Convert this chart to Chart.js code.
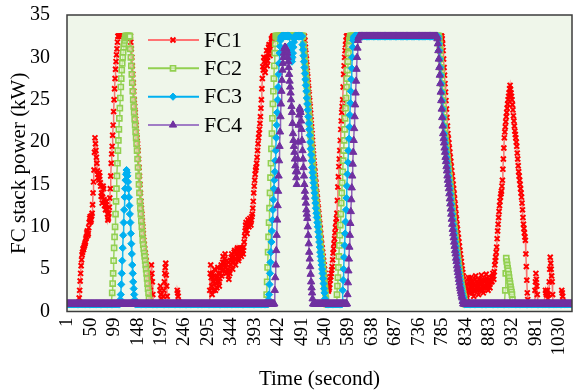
<!DOCTYPE html>
<html>
<head>
<meta charset="utf-8">
<script src="https://cdn.jsdelivr.net/npm/chart.js@4.4.1/dist/chart.umd.min.js"></script>
<style>
html,body{margin:0;padding:0;background:#fff;}
canvas{display:block;}
</style>
</head>
<body>
<canvas id="c" width="578" height="390"></canvas>
<script>
// X axis tick labels (time, second)
const tickLabels = [1,50,99,148,197,246,295,344,393,442,491,540,589,638,687,736,785,834,883,932,981,1030];

// FC stack power (kW), one value per second, 20 seconds per row
const fc1 = [
0.9,0.9,0.9,0.9,0.9,0.9,0.9,0.9,0.9,0.9,0.9,0.9,0.9,0.9,0.9,0.9,0.9,0.9,0.9,0.9,
0.9,0.9,0.9,0.9,0.9,1.6,2.5,3.6,4.5,5.4,6.1,6.7,7,7.4,7.3,7.6,7.8,8,8.2,8.6,
8.8,9.3,9.5,9,9.2,9.9,10.5,11,11.2,10.6,10.8,11.3,11.6,12.6,14,15.3,16.7,18.8,20.5,19.8,
19,18.2,17.5,16.6,16.2,15.8,15.5,16.4,16,15.2,14.8,13.6,14,12.8,13.5,14.8,14.5,13.2,12.5,12.9,
12,12.6,13,12.1,11.5,10.8,11,11.6,12.3,13.4,14.5,16,17.5,18.6,19.5,20.8,22,23.6,25,26.3,
27.5,28.6,29.5,30.3,31,31.8,32.5,32.5,32.5,32.5,32.5,32.5,32.5,32.5,32.5,32.5,32.5,32.5,32.5,32.5,
32.5,32.5,32.5,32.5,32.5,32.5,32.5,32.5,32.5,32.5,32.5,32.5,32.5,31.8,31,30,29,28,27,26,
25,24.2,23.5,22.7,22,21.2,20.5,19.8,19,18,17,16,15,14,13,12.2,11.5,10.7,10,9.2,
8.4,7.9,7.4,6.9,6.5,6,5.5,5,4.5,3.9,3.3,2.7,2.2,1.6,2.5,4,5.5,4.5,3.5,2,
0.9,0.9,0.9,0.9,0.9,0.9,0.9,0.9,0.9,0.9,0.9,0.9,0.9,0.9,2.5,3,2,1.5,0.9,0.9,
0.9,1.8,2.5,3.5,4.5,5.2,5.7,4.3,3,1.8,0.9,0.9,0.9,0.9,0.9,0.9,0.9,0.9,0.9,0.9,
0.9,0.9,0.9,0.9,0.9,0.9,0.9,0.9,0.9,0.9,2.5,2.2,1.8,1.2,0.9,0.9,0.9,0.9,0.9,0.9,
0.9,0.9,0.9,0.9,0.9,0.9,0.9,0.9,0.9,0.9,0.9,0.9,0.9,0.9,0.9,0.9,0.9,0.9,0.9,0.9,
0.9,0.9,0.9,0.9,0.9,0.9,0.9,0.9,0.9,0.9,0.9,0.9,0.9,0.9,0.9,0.9,0.9,0.9,0.9,0.9,
0.9,0.9,0.9,0.9,0.9,0.9,0.9,0.9,0.9,0.9,0.9,0.9,0.9,0.9,0.9,0.9,0.9,0.9,2.5,4.5,
5.5,4,3,2,4.5,3.5,2.5,4.2,5,3.8,2.5,3.3,4,2.8,3.5,5.2,4.5,3.6,3,3.9,
4.5,5.2,5.5,4.2,4.8,5.8,6.5,5,5.5,6.2,6.8,5.2,4.5,5.6,6,4.6,5,4.2,3.8,4.8,
4.5,6,5.5,6.4,6.8,5.8,5,5.9,6.5,7,7.2,6.2,5.5,6.1,6.8,7.3,7.5,6.5,6,6.3,
6.8,7.5,7.2,6.8,6.5,7.1,7.5,7.2,6.8,7.6,8.2,8.9,9.5,10.2,10.5,9.6,9.2,10.1,10.8,10.4,
10,10.6,11,10.5,10.2,10.8,11.2,11.5,12.2,13,14,14.8,15.5,16.2,16.7,17,17.5,18.2,19,19.8,
20.5,21,21.5,22.2,23,24,25,26.3,27.5,28.9,28.5,30,29.5,28.7,28.2,29.3,30,30.8,29,29.6,
30.5,31.2,31.5,30.8,30.2,31,31.5,32.2,32,32.3,32.5,32.5,32.5,32.5,32.5,32.5,32.5,32.5,32.5,32.5,
32.5,32.5,32.5,32.5,32.5,32.5,32.5,32.5,32.5,32.5,32.5,32.5,32.5,32.5,32.5,32.5,32.5,32.5,32.5,32.5,
32.5,32.5,32.5,32.5,32.5,32.5,32.5,32.5,32.5,32.5,32.5,32.5,32.5,32.5,32.5,32.5,32.5,32.5,32.5,32.5,
32.5,32.5,32.5,32.5,32.5,32.5,32.5,32.5,32.5,32.5,32.5,32.5,32.5,32.5,32.5,32.5,32.5,32,31.2,30.5,
29.8,29.1,28.4,27.7,27,26.3,25.6,24.9,24.2,23.4,22.6,21.8,21,20.2,19.4,18.6,17.8,17.1,16.5,15.8,
15.2,14.6,14,13.4,12.8,12.2,11.6,11,10.4,9.8,9.2,8.6,8,7.5,7,6.5,6,5.5,5,4.5,
4,3.6,3.2,2.9,2.6,2.5,2.4,2.6,2.8,3.2,3.7,4.1,4.5,4.9,5.3,6.1,6.9,7.4,8,8.6,
9.3,9.9,10.5,11,11.6,13.1,14.7,15.9,17.1,18,19,20.2,21.5,22.5,23.5,24.2,25,26.5,28,29,
30,30.8,31.5,32,32.5,32.5,32.5,32.5,32.5,32.5,32.5,32.5,32.5,32.5,32.5,32.5,32.5,32.5,32.5,32.5,
32.5,32.5,32.5,32.5,32.5,32.5,32.5,32.5,32.5,32.5,32.5,32.5,32.5,32.5,32.5,32.5,32.5,32.5,32.5,32.5,
32.5,32.5,32.5,32.5,32.5,32.5,32.5,32.5,32.5,32.5,32.5,32.5,32.5,32.5,32.5,32.5,32.5,32.5,32.5,32.5,
32.5,32.5,32.5,32.5,32.5,32.5,32.5,32.5,32.5,32.5,32.5,32.5,32.5,32.5,32.5,32.5,32.5,32.5,32.5,32.5,
32.5,32.5,32.5,32.5,32.5,32.5,32.5,32.5,32.5,32.5,32.5,32.5,32.5,32.5,32.5,32.5,32.5,32.5,32.5,32.5,
32.5,32.5,32.5,32.5,32.5,32.5,32.5,32.5,32.5,32.5,32.5,32.5,32.5,32.5,32.5,32.5,32.5,32.5,32.5,32.5,
32.5,32.5,32.5,32.5,32.5,32.5,32.5,32.5,32.5,32.5,32.5,32.5,32.5,32.5,32.5,32.5,32.5,32.5,32.5,32.5,
32.5,32.5,32.5,32.5,32.5,32.5,32.5,32.5,32.5,32.5,32.5,32.5,32.5,32.5,32.5,32.5,32.5,32.5,32.5,32.5,
32.5,32.5,32.5,32.5,32.5,32.5,32.5,32.5,32.5,32.5,32.5,32.5,32.5,32.5,32.5,32.5,32.5,32.5,32.5,32.5,
32.5,32.5,32.5,32.5,32.5,32.5,32.5,32.5,32.5,32.5,32.5,32.5,32.5,32.5,32.5,32.5,32.5,32.5,32.5,32.5,
32.5,32.5,32.5,32.5,32.2,31.6,30.8,29.8,28.8,27.9,26.9,25.9,24.9,23.9,22.9,21.9,21,20.4,19.9,19.3,
18.8,18.2,17.7,17.1,16.6,16,15.5,15,14.5,13.9,13.3,12.7,12.1,11.5,10.9,10.3,9.7,9.2,8.7,8.2,
7.7,7.2,6.8,6.3,5.9,5.4,5,4.6,4.2,3.8,3.4,3,2.7,2.4,2.1,1.8,1.6,3.2,2.5,4,
3.5,2.6,2.2,3.4,4,3.1,2.8,2.2,3.5,2.5,1.8,2.4,3,3.8,4.2,3.5,2.5,2.9,3.3,2.6,
2,3,3.8,3.2,2.6,3.5,4.3,3.7,3,2.5,2.2,2.9,3.6,3.1,2.8,3.7,4.4,3.9,3.2,2.8,
2.5,3.2,3.8,3.3,2.8,3.5,4,3.6,3.5,4.1,4.5,4.2,3.8,4.7,5.5,6,6.4,7,7.6,8.6,
9.5,10.3,11.1,11.8,12.5,13,13.5,13.9,14.2,14.8,15.5,16.8,18,19.3,20.5,21.2,21.8,22.4,23,23.5,
24,24.5,25,25.4,25.8,26.3,26.7,26.2,25.8,25.4,25,24.4,23.8,23.1,22.5,21.9,21.3,20.9,20.5,20,
19.5,18.7,18,17.2,16.5,16,15.5,15,14.5,14,13.5,12.8,12,11.1,10.3,9.8,9.3,8.8,8.4,6.8,
5.3,3.7,2.2,1.4,0.9,0.9,0.9,0.9,0.9,0.9,0.9,0.9,0.9,0.9,0.9,0.9,0.9,0.9,2.5,3.5,
4.5,3.8,3,2,0.9,0.9,0.9,0.9,0.9,0.9,0.9,0.9,0.9,0.9,0.9,0.9,0.9,0.9,0.9,0.9,
2.5,2.2,2,2.2,2.5,1.5,0.9,2,3.5,5,6.4,5.7,5,4.2,3.5,2,0.9,0.9,0.9,0.9,
0.9,0.9,0.9,0.9,0.9,0.9,0.9,0.9,0.9,0.9,0.9,0.9,0.9,0.9,2.5,2.2,1.8,1.2,0.9,0.9,
0.9,0.9,0.9,0.9,0.9,0.9,0.9,0.9,0.9,0.9,0.9,0.9,0.9,0.9,0.9,0.9,0.9,0.9,0.9,0.9
];

const fc2 = [
0.9,0.9,0.9,0.9,0.9,0.9,0.9,0.9,0.9,0.9,0.9,0.9,0.9,0.9,0.9,0.9,0.9,0.9,0.9,0.9,
0.9,0.9,0.9,0.9,0.9,0.9,0.9,0.9,0.9,0.9,0.9,0.9,0.9,0.9,0.9,0.9,0.9,0.9,0.9,0.9,
0.9,0.9,0.9,0.9,0.9,0.9,0.9,0.9,0.9,0.9,0.9,0.9,0.9,0.9,0.9,0.9,0.9,0.9,0.9,0.9,
0.9,0.9,0.9,0.9,0.9,0.9,0.9,0.9,0.9,0.9,0.9,0.9,0.9,0.9,0.9,0.9,0.9,0.9,0.9,0.9,
0.9,0.9,0.9,0.9,0.9,0.9,0.9,0.9,0.9,0.9,0.9,0.9,0.9,0.9,2.2,3.3,4.5,6,7.5,8.8,
10,11.5,13,14.5,16,17.5,19,20.2,21.5,22.8,24,25.2,26.5,27.5,28.5,29.3,30,30.6,31.2,31.6,
32,32.3,32.5,32.5,32.5,32.5,32.5,32.5,32.5,32.5,32.5,32.5,31,30,29,28,27,26,25,24.2,
23.5,22.7,22,21.2,20.5,19.8,19,18,17,16,15,14,13,12.2,11.5,10.7,10,9.2,8.4,7.9,
7.4,6.9,6.5,6,5.5,5,4.5,3.9,3.3,2.7,2.2,1.5,0.9,0.9,0.9,0.9,0.9,0.9,0.9,0.9,
0.9,0.9,0.9,0.9,0.9,0.9,0.9,0.9,0.9,0.9,0.9,0.9,0.9,0.9,0.9,0.9,0.9,0.9,0.9,0.9,
0.9,0.9,0.9,0.9,0.9,0.9,0.9,0.9,0.9,0.9,0.9,0.9,0.9,0.9,0.9,0.9,0.9,0.9,0.9,0.9,
0.9,0.9,0.9,0.9,0.9,0.9,0.9,0.9,0.9,0.9,0.9,0.9,0.9,0.9,0.9,0.9,0.9,0.9,0.9,0.9,
0.9,0.9,0.9,0.9,0.9,0.9,0.9,0.9,0.9,0.9,0.9,0.9,0.9,0.9,0.9,0.9,0.9,0.9,0.9,0.9,
0.9,0.9,0.9,0.9,0.9,0.9,0.9,0.9,0.9,0.9,0.9,0.9,0.9,0.9,0.9,0.9,0.9,0.9,0.9,0.9,
0.9,0.9,0.9,0.9,0.9,0.9,0.9,0.9,0.9,0.9,0.9,0.9,0.9,0.9,0.9,0.9,0.9,0.9,0.9,0.9,
0.9,0.9,0.9,0.9,0.9,0.9,0.9,0.9,0.9,0.9,0.9,0.9,0.9,0.9,0.9,0.9,0.9,0.9,0.9,0.9,
0.9,0.9,0.9,0.9,0.9,0.9,0.9,0.9,0.9,0.9,0.9,0.9,0.9,0.9,0.9,0.9,0.9,0.9,0.9,0.9,
0.9,0.9,0.9,0.9,0.9,0.9,0.9,0.9,0.9,0.9,0.9,0.9,0.9,0.9,0.9,0.9,0.9,0.9,0.9,0.9,
0.9,0.9,0.9,0.9,0.9,0.9,0.9,0.9,0.9,0.9,0.9,0.9,0.9,0.9,0.9,0.9,0.9,0.9,0.9,0.9,
0.9,0.9,0.9,0.9,0.9,0.9,0.9,0.9,0.9,0.9,0.9,0.9,0.9,0.9,0.9,0.9,0.9,0.9,0.9,0.9,
0.9,0.9,0.9,0.9,0.9,0.9,0.9,0.9,0.9,0.9,0.9,0.9,0.9,0.9,0.9,0.9,0.9,2,3.5,5.2,
7,8.8,10.5,12.2,14,15.8,17.5,19.2,21,22.8,24.5,26,27.5,29,30.5,31.6,32.5,32.5,32.5,32.5,
32.5,32.5,32.5,32.5,32.5,32.5,32.5,32.5,32.5,32.5,32.5,32.5,32.5,32.5,32.5,32.5,32.5,32.5,32.5,32.5,
32.5,32.5,32.5,32.5,32.5,32.5,32.5,32.5,32.5,32.5,32.5,32.5,32.5,32.5,32.5,32.5,32.5,32.5,32.5,32.5,
32.5,32.5,32.5,32.5,32.5,32.5,32.5,32.5,32.5,32.5,32.5,32.5,32.5,32.5,31.5,30.9,30.2,29.5,28.8,28.1,
27.4,26.7,26,25.2,24.5,23.8,23,22.2,21.5,20.8,20,19.2,18.5,17.8,17,16.4,15.8,15.2,14.6,14,
13.4,12.8,12.2,11.6,11.1,10.5,10,9.4,8.8,8.2,7.6,7,6.5,6,5.5,5,4.5,3.9,3.3,2.7,
2.2,1.5,0.9,0.9,0.9,0.9,0.9,0.9,0.9,0.9,0.9,0.9,0.9,0.9,0.9,0.9,0.9,0.9,0.9,0.9,
0.9,0.9,0.9,0.9,2,3,4,5.2,6.5,7.8,9,10.2,11.5,12.8,14,15.2,16.5,17.8,19,20.2,
21.5,22.8,24,25.2,26.5,27.5,28.5,29.5,30.5,31.3,32,32.3,32.5,32.5,32.5,32.5,32.5,32.5,32.5,32.5,
32.5,32.5,32.5,32.5,32.5,32.5,32.5,32.5,32.5,32.5,32.5,32.5,32.5,32.5,32.5,32.5,32.5,32.5,32.5,32.5,
32.5,32.5,32.5,32.5,32.5,32.5,32.5,32.5,32.5,32.5,32.5,32.5,32.5,32.5,32.5,32.5,32.5,32.5,32.5,32.5,
32.5,32.5,32.5,32.5,32.5,32.5,32.5,32.5,32.5,32.5,32.5,32.5,32.5,32.5,32.5,32.5,32.5,32.5,32.5,32.5,
32.5,32.5,32.5,32.5,32.5,32.5,32.5,32.5,32.5,32.5,32.5,32.5,32.5,32.5,32.5,32.5,32.5,32.5,32.5,32.5,
32.5,32.5,32.5,32.5,32.5,32.5,32.5,32.5,32.5,32.5,32.5,32.5,32.5,32.5,32.5,32.5,32.5,32.5,32.5,32.5,
32.5,32.5,32.5,32.5,32.5,32.5,32.5,32.5,32.5,32.5,32.5,32.5,32.5,32.5,32.5,32.5,32.5,32.5,32.5,32.5,
32.5,32.5,32.5,32.5,32.5,32.5,32.5,32.5,32.5,32.5,32.5,32.5,32.5,32.5,32.5,32.5,32.5,32.5,32.5,32.5,
32.5,32.5,32.5,32.5,32.5,32.5,32.5,32.5,32.5,32.5,32.5,32.5,32.5,32.5,32.5,32.5,32.5,32.5,32.5,32.5,
32.5,32.5,32.5,32.5,32.5,32.5,32.5,32.5,32.5,32.5,32.5,32.5,32.5,32.5,32.5,32.5,32.5,32.5,32.2,31.5,
30.8,29.8,28.8,27.9,26.9,25.9,24.9,23.9,22.9,21.9,21,20.4,19.9,19.3,18.8,18.2,17.7,17.1,16.6,16,
15.5,15,14.5,13.9,13.3,12.7,12.1,11.5,10.9,10.3,9.7,9.2,8.7,8.2,7.7,7.2,6.8,6.3,5.9,5.4,
5,4.6,4.2,3.8,3.4,3,2.7,2.4,2.1,1.8,1.6,1.2,0.9,0.9,0.9,0.9,0.9,0.9,0.9,0.9,
0.9,0.9,0.9,0.9,0.9,0.9,0.9,0.9,0.9,0.9,0.9,0.9,0.9,0.9,0.9,0.9,0.9,0.9,0.9,0.9,
0.9,0.9,0.9,0.9,0.9,0.9,0.9,0.9,0.9,0.9,0.9,0.9,0.9,0.9,0.9,0.9,0.9,0.9,0.9,0.9,
0.9,0.9,0.9,0.9,0.9,0.9,0.9,0.9,0.9,0.9,0.9,0.9,0.9,0.9,0.9,0.9,0.9,0.9,0.9,0.9,
0.9,0.9,0.9,0.9,0.9,0.9,0.9,0.9,0.9,0.9,0.9,0.9,0.9,0.9,0.9,0.9,2.5,4.5,6.3,5.9,
5.5,5.1,4.8,4.4,4,3.6,3.3,2.9,2.6,2.3,2,1.4,0.9,0.9,0.9,0.9,0.9,0.9,0.9,0.9,
0.9,0.9,0.9,0.9,0.9,0.9,0.9,0.9,0.9,0.9,0.9,0.9,0.9,0.9,0.9,0.9,0.9,0.9,0.9,0.9,
0.9,0.9,0.9,0.9,0.9,0.9,0.9,0.9,0.9,0.9,0.9,0.9,0.9,0.9,0.9,0.9,0.9,0.9,0.9,0.9,
0.9,0.9,0.9,0.9,0.9,0.9,0.9,0.9,0.9,0.9,0.9,0.9,0.9,0.9,0.9,0.9,0.9,0.9,0.9,0.9,
0.9,0.9,0.9,0.9,0.9,0.9,0.9,0.9,0.9,0.9,0.9,0.9,0.9,0.9,0.9,0.9,0.9,0.9,0.9,0.9,
0.9,0.9,0.9,0.9,0.9,0.9,0.9,0.9,0.9,0.9,0.9,0.9,0.9,0.9,0.9,0.9,0.9,0.9,0.9,0.9,
0.9,0.9,0.9,0.9,0.9,0.9,0.9,0.9,0.9,0.9,0.9,0.9,0.9,0.9,0.9,0.9,0.9,0.9,0.9,0.9
];

const fc3 = [
0.9,0.9,0.9,0.9,0.9,0.9,0.9,0.9,0.9,0.9,0.9,0.9,0.9,0.9,0.9,0.9,0.9,0.9,0.9,0.9,
0.9,0.9,0.9,0.9,0.9,0.9,0.9,0.9,0.9,0.9,0.9,0.9,0.9,0.9,0.9,0.9,0.9,0.9,0.9,0.9,
0.9,0.9,0.9,0.9,0.9,0.9,0.9,0.9,0.9,0.9,0.9,0.9,0.9,0.9,0.9,0.9,0.9,0.9,0.9,0.9,
0.9,0.9,0.9,0.9,0.9,0.9,0.9,0.9,0.9,0.9,0.9,0.9,0.9,0.9,0.9,0.9,0.9,0.9,0.9,0.9,
0.9,0.9,0.9,0.9,0.9,0.9,0.9,0.9,0.9,0.9,0.9,0.9,0.9,0.9,0.9,0.9,0.9,0.9,0.9,0.9,
0.9,0.9,0.9,0.9,0.9,0.9,0.9,0.9,0.9,0.9,0.9,1.4,2,3.2,4.5,6,7.5,9,10.5,12,
13.5,14.5,15.5,16.2,16.7,16.4,16,15.3,14.5,13.5,12.5,11.5,10.5,9.2,8,6.8,5.5,4.5,3.5,2.7,
2,1.4,0.9,0.9,0.9,0.9,0.9,0.9,0.9,0.9,0.9,0.9,0.9,0.9,0.9,0.9,0.9,0.9,0.9,0.9,
0.9,0.9,0.9,0.9,0.9,0.9,0.9,0.9,0.9,0.9,0.9,0.9,0.9,0.9,0.9,0.9,0.9,0.9,0.9,0.9,
0.9,0.9,0.9,0.9,0.9,0.9,0.9,0.9,0.9,0.9,0.9,0.9,0.9,0.9,0.9,0.9,0.9,0.9,0.9,0.9,
0.9,0.9,0.9,0.9,0.9,0.9,0.9,0.9,0.9,0.9,0.9,0.9,0.9,0.9,0.9,0.9,0.9,0.9,0.9,0.9,
0.9,0.9,0.9,0.9,0.9,0.9,0.9,0.9,0.9,0.9,0.9,0.9,0.9,0.9,0.9,0.9,0.9,0.9,0.9,0.9,
0.9,0.9,0.9,0.9,0.9,0.9,0.9,0.9,0.9,0.9,0.9,0.9,0.9,0.9,0.9,0.9,0.9,0.9,0.9,0.9,
0.9,0.9,0.9,0.9,0.9,0.9,0.9,0.9,0.9,0.9,0.9,0.9,0.9,0.9,0.9,0.9,0.9,0.9,0.9,0.9,
0.9,0.9,0.9,0.9,0.9,0.9,0.9,0.9,0.9,0.9,0.9,0.9,0.9,0.9,0.9,0.9,0.9,0.9,0.9,0.9,
0.9,0.9,0.9,0.9,0.9,0.9,0.9,0.9,0.9,0.9,0.9,0.9,0.9,0.9,0.9,0.9,0.9,0.9,0.9,0.9,
0.9,0.9,0.9,0.9,0.9,0.9,0.9,0.9,0.9,0.9,0.9,0.9,0.9,0.9,0.9,0.9,0.9,0.9,0.9,0.9,
0.9,0.9,0.9,0.9,0.9,0.9,0.9,0.9,0.9,0.9,0.9,0.9,0.9,0.9,0.9,0.9,0.9,0.9,0.9,0.9,
0.9,0.9,0.9,0.9,0.9,0.9,0.9,0.9,0.9,0.9,0.9,0.9,0.9,0.9,0.9,0.9,0.9,0.9,0.9,0.9,
0.9,0.9,0.9,0.9,0.9,0.9,0.9,0.9,0.9,0.9,0.9,0.9,0.9,0.9,0.9,0.9,0.9,0.9,0.9,0.9,
0.9,0.9,0.9,0.9,0.9,0.9,0.9,0.9,0.9,0.9,0.9,0.9,0.9,0.9,0.9,0.9,0.9,0.9,0.9,0.9,
0.9,1.4,2,3.2,4.5,5.8,7,8.2,9.5,10.8,12,13.2,14.5,15.5,16.5,17.8,19,20.5,22,23.5,
25,26.5,28,29.3,30.5,31.3,32,32.3,32.5,32.5,32.5,32.5,32.5,32.5,32.5,32.5,32.5,32.5,32.5,32.5,
32.5,32.5,32.5,32.5,32.5,32.5,31.5,30.8,30.2,29.8,29.5,30,30.5,31.2,31.8,32.2,32.5,32.5,32.5,32.5,
32.5,32.5,32.5,32.5,32.5,32.5,32.5,32.5,32.5,32.5,32.5,32.5,31.5,30.9,30.2,29.5,28.8,28.1,27.4,26.7,
26,25.2,24.5,23.8,23,22.2,21.5,20.8,20,19.2,18.5,17.8,17,16.4,15.8,15.2,14.6,14,13.4,12.8,
12.2,11.6,11.1,10.5,10,9.4,8.8,8.2,7.6,7,6.5,6,5.5,5,4.5,3.9,3.3,2.7,2.2,1.5,
0.9,0.9,0.9,0.9,0.9,0.9,0.9,0.9,0.9,0.9,0.9,0.9,0.9,0.9,0.9,0.9,0.9,0.9,0.9,0.9,
0.9,0.9,0.9,0.9,0.9,0.9,0.9,0.9,0.9,0.9,0.9,0.9,0.9,0.9,0.9,0.9,2.5,3.7,5,6.4,
7.8,9.2,10.6,12,13.4,14.8,16.2,17.6,19,20.4,21.8,23.2,24.6,26,27.4,28.7,30,31.2,32,32.3,
32.5,32.5,32.5,32.5,32.5,32.5,32.5,32.5,32.5,32.5,32.5,32.5,32.5,32.5,32.5,32.5,32.5,32.5,32.5,32.5,
32.5,32.5,32.5,32.5,32.5,32.5,32.5,32.5,32.5,32.5,32.5,32.5,32.5,32.5,32.5,32.5,32.5,32.5,32.5,32.5,
32.5,32.5,32.5,32.5,32.5,32.5,32.5,32.5,32.5,32.5,32.5,32.5,32.5,32.5,32.5,32.5,32.5,32.5,32.5,32.5,
32.5,32.5,32.5,32.5,32.5,32.5,32.5,32.5,32.5,32.5,32.5,32.5,32.5,32.5,32.5,32.5,32.5,32.5,32.5,32.5,
32.5,32.5,32.5,32.5,32.5,32.5,32.5,32.5,32.5,32.5,32.5,32.5,32.5,32.5,32.5,32.5,32.5,32.5,32.5,32.5,
32.5,32.5,32.5,32.5,32.5,32.5,32.5,32.5,32.5,32.5,32.5,32.5,32.5,32.5,32.5,32.5,32.5,32.5,32.5,32.5,
32.5,32.5,32.5,32.5,32.5,32.5,32.5,32.5,32.5,32.5,32.5,32.5,32.5,32.5,32.5,32.5,32.5,32.5,32.5,32.5,
32.5,32.5,32.5,32.5,32.5,32.5,32.5,32.5,32.5,32.5,32.5,32.5,32.5,32.5,32.5,32.5,32.5,32.5,32.5,32.5,
32.5,32.5,32.5,32.5,32.5,32.5,32.5,32.5,32.5,32.5,32.5,32.5,32.5,32.5,32.5,32.5,32.2,31.6,30.8,29.8,
28.8,27.9,26.9,25.9,24.9,23.9,22.9,21.9,21,20.4,19.9,19.3,18.8,18.2,17.7,17.1,16.6,16,15.5,15,
14.5,13.9,13.3,12.7,12.1,11.5,10.9,10.3,9.7,9.2,8.7,8.2,7.7,7.2,6.8,6.3,5.9,5.4,5,4.6,
4.2,3.8,3.4,3,2.7,2.4,2.1,1.8,1.6,1.2,0.9,0.9,0.9,0.9,0.9,0.9,0.9,0.9,0.9,0.9,
0.9,0.9,0.9,0.9,0.9,0.9,0.9,0.9,0.9,0.9,0.9,0.9,0.9,0.9,0.9,0.9,0.9,0.9,0.9,0.9,
0.9,0.9,0.9,0.9,0.9,0.9,0.9,0.9,0.9,0.9,0.9,0.9,0.9,0.9,0.9,0.9,0.9,0.9,0.9,0.9,
0.9,0.9,0.9,0.9,0.9,0.9,0.9,0.9,0.9,0.9,0.9,0.9,0.9,0.9,0.9,0.9,0.9,0.9,0.9,0.9,
0.9,0.9,0.9,0.9,0.9,0.9,0.9,0.9,0.9,0.9,0.9,0.9,0.9,0.9,0.9,0.9,0.9,0.9,0.9,0.9,
0.9,0.9,0.9,0.9,0.9,0.9,0.9,0.9,0.9,0.9,0.9,0.9,0.9,0.9,0.9,0.9,0.9,0.9,0.9,0.9,
0.9,0.9,0.9,0.9,0.9,0.9,0.9,0.9,0.9,0.9,0.9,0.9,0.9,0.9,0.9,0.9,0.9,0.9,0.9,0.9,
0.9,0.9,0.9,0.9,0.9,0.9,0.9,0.9,0.9,0.9,0.9,0.9,0.9,0.9,0.9,0.9,0.9,0.9,0.9,0.9,
0.9,0.9,0.9,0.9,0.9,0.9,0.9,0.9,0.9,0.9,0.9,0.9,0.9,0.9,0.9,0.9,0.9,0.9,0.9,0.9,
0.9,0.9,0.9,0.9,0.9,0.9,0.9,0.9,0.9,0.9,0.9,0.9,0.9,0.9,0.9,0.9,0.9,0.9,0.9,0.9,
0.9,0.9,0.9,0.9,0.9,0.9,0.9,0.9,0.9,0.9,0.9,0.9,0.9,0.9,0.9,0.9,0.9,0.9,0.9,0.9,
0.9,0.9,0.9,0.9,0.9,0.9,0.9,0.9,0.9,0.9,0.9,0.9,0.9,0.9,0.9,0.9,0.9,0.9,0.9,0.9
];

const fc4 = [
0.9,0.9,0.9,0.9,0.9,0.9,0.9,0.9,0.9,0.9,0.9,0.9,0.9,0.9,0.9,0.9,0.9,0.9,0.9,0.9,
0.9,0.9,0.9,0.9,0.9,0.9,0.9,0.9,0.9,0.9,0.9,0.9,0.9,0.9,0.9,0.9,0.9,0.9,0.9,0.9,
0.9,0.9,0.9,0.9,0.9,0.9,0.9,0.9,0.9,0.9,0.9,0.9,0.9,0.9,0.9,0.9,0.9,0.9,0.9,0.9,
0.9,0.9,0.9,0.9,0.9,0.9,0.9,0.9,0.9,0.9,0.9,0.9,0.9,0.9,0.9,0.9,0.9,0.9,0.9,0.9,
0.9,0.9,0.9,0.9,0.9,0.9,0.9,0.9,0.9,0.9,0.9,0.9,0.9,0.9,0.9,0.9,0.9,0.9,0.9,0.9,
0.9,0.9,0.9,0.9,0.9,0.9,0.9,0.9,0.9,0.9,0.9,0.9,0.9,0.9,0.9,0.9,0.9,0.9,0.9,0.9,
0.9,0.9,0.9,0.9,0.9,0.9,0.9,0.9,0.9,0.9,0.9,0.9,0.9,0.9,0.9,0.9,0.9,0.9,0.9,0.9,
0.9,0.9,0.9,0.9,0.9,0.9,0.9,0.9,0.9,0.9,0.9,0.9,0.9,0.9,0.9,0.9,0.9,0.9,0.9,0.9,
0.9,0.9,0.9,0.9,0.9,0.9,0.9,0.9,0.9,0.9,0.9,0.9,0.9,0.9,0.9,0.9,0.9,0.9,0.9,0.9,
0.9,0.9,0.9,0.9,0.9,0.9,0.9,0.9,0.9,0.9,0.9,0.9,0.9,0.9,0.9,0.9,0.9,0.9,0.9,0.9,
0.9,0.9,0.9,0.9,0.9,0.9,0.9,0.9,0.9,0.9,0.9,0.9,0.9,0.9,0.9,0.9,0.9,0.9,0.9,0.9,
0.9,0.9,0.9,0.9,0.9,0.9,0.9,0.9,0.9,0.9,0.9,0.9,0.9,0.9,0.9,0.9,0.9,0.9,0.9,0.9,
0.9,0.9,0.9,0.9,0.9,0.9,0.9,0.9,0.9,0.9,0.9,0.9,0.9,0.9,0.9,0.9,0.9,0.9,0.9,0.9,
0.9,0.9,0.9,0.9,0.9,0.9,0.9,0.9,0.9,0.9,0.9,0.9,0.9,0.9,0.9,0.9,0.9,0.9,0.9,0.9,
0.9,0.9,0.9,0.9,0.9,0.9,0.9,0.9,0.9,0.9,0.9,0.9,0.9,0.9,0.9,0.9,0.9,0.9,0.9,0.9,
0.9,0.9,0.9,0.9,0.9,0.9,0.9,0.9,0.9,0.9,0.9,0.9,0.9,0.9,0.9,0.9,0.9,0.9,0.9,0.9,
0.9,0.9,0.9,0.9,0.9,0.9,0.9,0.9,0.9,0.9,0.9,0.9,0.9,0.9,0.9,0.9,0.9,0.9,0.9,0.9,
0.9,0.9,0.9,0.9,0.9,0.9,0.9,0.9,0.9,0.9,0.9,0.9,0.9,0.9,0.9,0.9,0.9,0.9,0.9,0.9,
0.9,0.9,0.9,0.9,0.9,0.9,0.9,0.9,0.9,0.9,0.9,0.9,0.9,0.9,0.9,0.9,0.9,0.9,0.9,0.9,
0.9,0.9,0.9,0.9,0.9,0.9,0.9,0.9,0.9,0.9,0.9,0.9,0.9,0.9,0.9,0.9,0.9,0.9,0.9,0.9,
0.9,0.9,0.9,0.9,0.9,0.9,0.9,0.9,0.9,0.9,0.9,0.9,0.9,0.9,0.9,0.9,0.9,0.9,0.9,0.9,
0.9,0.9,0.9,0.9,0.9,0.9,0.9,0.9,0.9,0.9,0.9,0.9,0.9,0.9,2.5,4,5.5,7.2,9,10.8,
12.5,14.2,16,17.8,19.5,21.2,23,24.5,26,27.3,28.5,29.3,30,30.5,31,31.2,31.2,31.1,31,30.8,
30.5,30,29.5,28.8,28,27.2,26.5,25.8,25,24.2,23.5,22.2,21,20.2,19.5,18.8,18,17.2,16.5,15.8,
15,16.5,18,20,22,23.2,24,23.8,23.5,22.5,21.5,20.2,19,18,17,16,15,14.2,13.5,12.8,
12,11.5,11,10,9,8,7,6.2,5.3,4.4,3.5,2.8,2.2,1.5,0.9,0.9,0.9,0.9,0.9,0.9,
0.9,0.9,0.9,0.9,0.9,0.9,0.9,0.9,0.9,0.9,0.9,0.9,0.9,0.9,0.9,0.9,0.9,0.9,0.9,0.9,
0.9,0.9,0.9,0.9,0.9,0.9,0.9,0.9,0.9,0.9,0.9,0.9,0.9,0.9,0.9,0.9,0.9,0.9,0.9,0.9,
0.9,0.9,0.9,0.9,0.9,0.9,0.9,0.9,0.9,0.9,0.9,0.9,0.9,0.9,0.9,0.9,0.9,0.9,0.9,0.9,
0.9,0.9,0.9,0.9,0.9,0.9,2,3.4,4.8,6.2,7.6,9,10.4,11.8,13.2,14.6,16,17.4,18.8,20.2,
21.6,23,24.4,25.8,27.2,28.6,30,31.1,32,32.3,32.5,32.5,32.5,32.5,32.5,32.5,32.5,32.5,32.5,32.5,
32.5,32.5,32.5,32.5,32.5,32.5,32.5,32.5,32.5,32.5,32.5,32.5,32.5,32.5,32.5,32.5,32.5,32.5,32.5,32.5,
32.5,32.5,32.5,32.5,32.5,32.5,32.5,32.5,32.5,32.5,32.5,32.5,32.5,32.5,32.5,32.5,32.5,32.5,32.5,32.5,
32.5,32.5,32.5,32.5,32.5,32.5,32.5,32.5,32.5,32.5,32.5,32.5,32.5,32.5,32.5,32.5,32.5,32.5,32.5,32.5,
32.5,32.5,32.5,32.5,32.5,32.5,32.5,32.5,32.5,32.5,32.5,32.5,32.5,32.5,32.5,32.5,32.5,32.5,32.5,32.5,
32.5,32.5,32.5,32.5,32.5,32.5,32.5,32.5,32.5,32.5,32.5,32.5,32.5,32.5,32.5,32.5,32.5,32.5,32.5,32.5,
32.5,32.5,32.5,32.5,32.5,32.5,32.5,32.5,32.5,32.5,32.5,32.5,32.5,32.5,32.5,32.5,32.5,32.5,32.5,32.5,
32.5,32.5,32.5,32.5,32.5,32.5,32.5,32.5,32.5,32.5,32.5,32.5,32.5,32.5,32.5,32.5,32.5,32.5,32.5,32.5,
32.5,32.5,32.5,32.5,32.5,32.5,32.5,32.5,32.5,32.5,32.5,32.5,32.5,32.5,32.2,31.6,30.8,29.8,28.8,27.9,
26.9,25.9,24.9,23.9,22.9,21.9,21,20.4,19.9,19.3,18.8,18.2,17.7,17.1,16.6,16,15.5,15,14.5,13.9,
13.3,12.7,12.1,11.5,10.9,10.3,9.7,9.2,8.7,8.2,7.7,7.2,6.8,6.3,5.9,5.4,5,4.6,4.2,3.8,
3.4,3,2.7,2.4,2.1,1.8,1.6,1.2,0.9,0.9,0.9,0.9,0.9,0.9,0.9,0.9,0.9,0.9,0.9,0.9,
0.9,0.9,0.9,0.9,0.9,0.9,0.9,0.9,0.9,0.9,0.9,0.9,0.9,0.9,0.9,0.9,0.9,0.9,0.9,0.9,
0.9,0.9,0.9,0.9,0.9,0.9,0.9,0.9,0.9,0.9,0.9,0.9,0.9,0.9,0.9,0.9,0.9,0.9,0.9,0.9,
0.9,0.9,0.9,0.9,0.9,0.9,0.9,0.9,0.9,0.9,0.9,0.9,0.9,0.9,0.9,0.9,0.9,0.9,0.9,0.9,
0.9,0.9,0.9,0.9,0.9,0.9,0.9,0.9,0.9,0.9,0.9,0.9,0.9,0.9,0.9,0.9,0.9,0.9,0.9,0.9,
0.9,0.9,0.9,0.9,0.9,0.9,0.9,0.9,0.9,0.9,0.9,0.9,0.9,0.9,0.9,0.9,0.9,0.9,0.9,0.9,
0.9,0.9,0.9,0.9,0.9,0.9,0.9,0.9,0.9,0.9,0.9,0.9,0.9,0.9,0.9,0.9,0.9,0.9,0.9,0.9,
0.9,0.9,0.9,0.9,0.9,0.9,0.9,0.9,0.9,0.9,0.9,0.9,0.9,0.9,0.9,0.9,0.9,0.9,0.9,0.9,
0.9,0.9,0.9,0.9,0.9,0.9,0.9,0.9,0.9,0.9,0.9,0.9,0.9,0.9,0.9,0.9,0.9,0.9,0.9,0.9,
0.9,0.9,0.9,0.9,0.9,0.9,0.9,0.9,0.9,0.9,0.9,0.9,0.9,0.9,0.9,0.9,0.9,0.9,0.9,0.9,
0.9,0.9,0.9,0.9,0.9,0.9,0.9,0.9,0.9,0.9,0.9,0.9,0.9,0.9,0.9,0.9,0.9,0.9,0.9,0.9,
0.9,0.9,0.9,0.9,0.9,0.9,0.9,0.9,0.9,0.9,0.9,0.9,0.9,0.9,0.9,0.9,0.9,0.9,0.9,0.9
];

const seriesNames = ['FC1','FC2','FC3','FC4'];
const seriesValues = [fc1, fc2, fc3, fc4];

// time of each sample: the n-th value is second n
const times = fc1.map((_, i) => i + 1);

const FONT = '"Liberation Serif", "Times New Roman", serif';

function pts(vals){ return vals.map((v,i)=>({x:times[i], y:v})); }

const styles = [
  {line:'rgba(255,70,70,0.75)', legendLine:'#ff7373', style:'crossRot', r:3.5, bg:'#ff0000', bc:'#ff0000', bw:2},
  {line:'rgba(146,208,80,0.9)', legendLine:'#92d050', style:'rect', r:3.6, bg:'rgba(230,245,215,0.6)', bc:'#92d050', bw:1.6},
  {line:'rgba(0,176,240,0.9)', legendLine:'#00b0f0', style:'rectRot', r:3.6, bg:'#00b0f0', bc:'#00b0f0', bw:1},
  {line:'rgba(125,70,175,0.85)', legendLine:'#a07cc5', style:'triangle', r:4.2, bg:'#7030a0', bc:'#7030a0', bw:1}
];

const datasets = seriesValues.map((v,i)=>({
  label: seriesNames[i],
  data: pts(v),
  borderColor: styles[i].line,
  borderWidth: 1.5,
  pointStyle: styles[i].style,
  pointRadius: styles[i].r,
  pointBackgroundColor: styles[i].bg,
  pointBorderColor: styles[i].bc,
  pointBorderWidth: styles[i].bw,
  tension: 0,
  fill: false,
  order: 3 - i
}));

function drawMarker(ctx, s, x, y){
  ctx.save();
  ctx.fillStyle = s.bg; ctx.strokeStyle = s.bc; ctx.lineWidth = s.bw;
  if (Chart.helpers && Chart.helpers.drawPoint) {
    Chart.helpers.drawPoint(ctx, {pointStyle:s.style, radius:s.r, rotation:0, borderWidth:s.bw}, x, y);
  }
  ctx.restore();
}

const bgPlugin = {
  id:'bg',
  beforeDraw(chart){
    const {ctx, chartArea:a} = chart;
    ctx.save();
    ctx.fillStyle = '#ffffff';
    ctx.fillRect(0,0,chart.width,chart.height);
    ctx.fillStyle = '#eff6ea';
    ctx.fillRect(a.left, a.top, a.right-a.left, a.bottom-a.top);
    ctx.restore();
  },
  afterDraw(chart){
    const {ctx, chartArea:a} = chart;
    ctx.save();
    ctx.strokeStyle = '#3c3c3c';
    ctx.lineWidth = 1.5;
    ctx.strokeRect(a.left, a.top, a.right-a.left, a.bottom-a.top);
    const rows = [40, 68.3, 96.7, 125];
    seriesNames.forEach((n,i)=>{
      const y = rows[i];
      ctx.strokeStyle = styles[i].legendLine; ctx.lineWidth = 2;
      ctx.beginPath(); ctx.moveTo(a.left+81, y); ctx.lineTo(a.left+132, y); ctx.stroke();
      drawMarker(ctx, styles[i], a.left+106, y);
      ctx.fillStyle = '#000';
      ctx.font = '22px ' + FONT;
      ctx.textBaseline = 'middle';
      ctx.textAlign = 'left';
      ctx.fillText(n, a.left+137, y+1);
    });
    ctx.restore();
  }
};

new Chart(document.getElementById('c'), {
  type:'line',
  data:{datasets},
  plugins:[bgPlugin],
  options:{
    responsive:false,
    devicePixelRatio:1,
    animation:false,
    layout:{padding:{top:15, right:6, left:0, bottom:0}},
    plugins:{legend:{display:false}, tooltip:{enabled:false}},
    scales:{
      x:{
        type:'linear',
        min:0.5, max:1056.5,
        afterBuildTicks: s => { s.ticks = tickLabels.map(v=>({value:v})); },
        afterFit: s => { s.height = 78.5; s.paddingLeft = 0; s.paddingRight = 0; },
        grid:{display:false, drawTicks:false},
        border:{display:false},
        ticks:{autoSkip:false, minRotation:90, maxRotation:90, padding:6, color:'#000',
               font:{family:FONT, size:19}, callback:v=>String(v)},
        title:{display:true, text:'Time (second)', color:'#000',
               font:{family:FONT, size:21, lineHeight:1}, padding:{top:0,bottom:0}}
      },
      y:{
        min:0, max:35,
        afterFit: s => { s.width = 67; s.paddingTop = 0; s.paddingBottom = 0; },
        grid:{display:false, drawTicks:false},
        border:{display:false},
        ticks:{stepSize:5, padding:17, color:'#000', font:{family:FONT, size:20}},
        title:{display:true, text:'FC stack power (kW)', color:'#000',
               font:{family:FONT, size:21, lineHeight:1.2}, padding:{top:7,bottom:0}}
      }
    }
  }
});
</script>
</body>
</html>
